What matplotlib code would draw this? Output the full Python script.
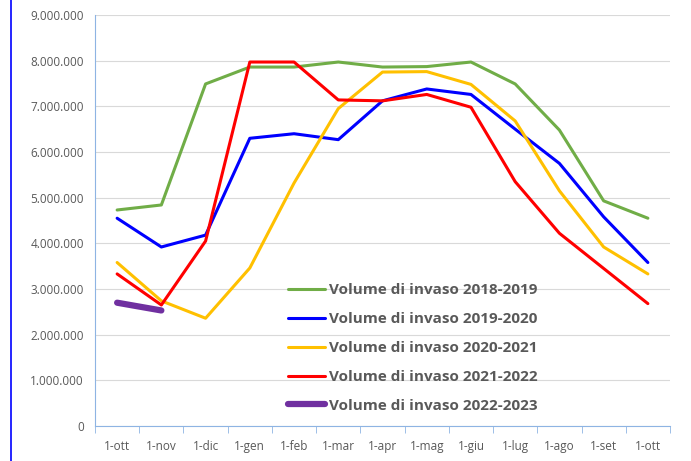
import matplotlib.pyplot as plt
from matplotlib.lines import Line2D
from matplotlib.ticker import FuncFormatter, MultipleLocator
import numpy as np

plt.rcParams['font.family'] = ['Open Sans', 'DejaVu Sans']

mesi = ['1-ott', '1-nov', '1-dic', '1-gen', '1-feb', '1-mar', '1-apr',
        '1-mag', '1-giu', '1-lug', '1-ago', '1-set', '1-ott']

vol_2018_2019 = [4.73, 4.84, 7.49, 7.86, 7.86, 7.97, 7.86, 7.87, 7.97, 7.49, 6.48, 4.93, 4.55]
vol_2019_2020 = [4.55, 3.92, 4.18, 6.30, 6.40, 6.27, 7.12, 7.38, 7.26, 6.50, 5.75, 4.58, 3.58]
vol_2020_2021 = [3.58, 2.74, 2.36, 3.46, 5.32, 6.95, 7.75, 7.76, 7.48, 6.68, 5.15, 3.92, 3.33]
vol_2021_2022 = [3.33, 2.65, 4.05, 7.97, 7.97, 7.14, 7.12, 7.26, 6.98, 5.35, 4.22, 3.45, 2.68]
vol_2022_2023 = [2.70, 2.53]

serie = [
    ('Volume di invaso 2018-2019', vol_2018_2019, '#70AD47', 2.2),
    ('Volume di invaso 2019-2020', vol_2019_2020, '#0000FF', 2.2),
    ('Volume di invaso 2020-2021', vol_2020_2021, '#FFC000', 2.2),
    ('Volume di invaso 2021-2022', vol_2021_2022, '#FF0000', 2.2),
    ('Volume di invaso 2022-2023', vol_2022_2023, '#7030A0', 4.5),
]

fig = plt.figure(figsize=(6.91, 4.61), dpi=100)
ax = fig.add_axes([0.1375, 0.0759, 0.8321, 0.8916])

for nome, valori, colore, lw in serie:
    x = np.arange(len(valori))
    ax.plot(x, np.array(valori) * 1e6, color=colore, linewidth=lw,
            label=nome, solid_capstyle='round')

ax.set_xlim(-0.5, len(mesi) - 0.5)
ax.set_ylim(0, 9e6)
ax.yaxis.set_major_locator(MultipleLocator(1e6))
ax.yaxis.set_major_formatter(FuncFormatter(lambda v, p: f'{int(v):,}'.replace(',', '.')))
ax.set_xticks(np.arange(len(mesi)))
ax.set_xticklabels(mesi)
ax.set_xticks(np.arange(len(mesi) + 1) - 0.5, minor=True)

ax.grid(axis='y', color='#D9D9D9', linewidth=0.8)
ax.set_axisbelow(True)
for s in ['top', 'right']:
    ax.spines[s].set_visible(False)
for s in ['left', 'bottom']:
    ax.spines[s].set_color('#8EB4E3')
ax.tick_params(axis='y', length=0, colors='#595959', labelsize=8.5, pad=8)
ax.tick_params(axis='x', which='major', length=0, colors='#595959', labelsize=8.5, pad=10)
ax.tick_params(axis='x', which='minor', length=5, color='#8EB4E3')

leg = ax.legend(loc='lower left', bbox_to_anchor=(0.32, 0.01), frameon=False,
                handlelength=2.4, handletextpad=0.25, labelspacing=0.97,
                borderaxespad=0.2, prop={'weight': 'bold', 'size': 11})
for t in leg.get_texts():
    t.set_color('#595959')

# linea blu sul bordo sinistro
fig.add_artist(Line2D([0.016, 0.016], [0, 1], color='#0000FF', linewidth=1.2,
                      transform=fig.transFigure))

plt.savefig('out.png', dpi=100)
